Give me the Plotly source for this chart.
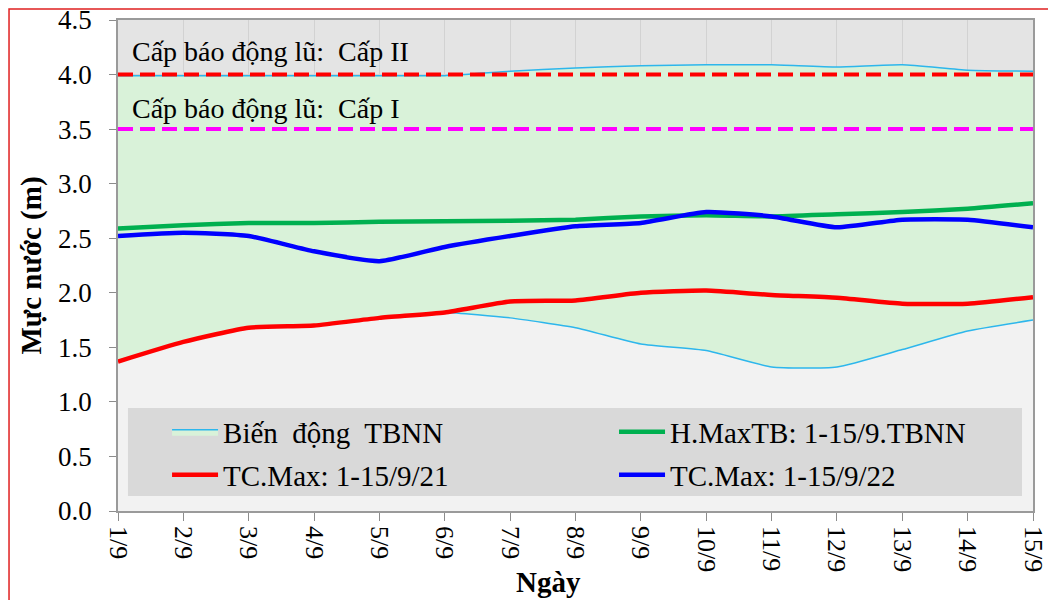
import plotly.graph_objects as go

# Ngày 1/9 -> 15/9
ngay = ["1/9", "2/9", "3/9", "4/9", "5/9", "6/9", "7/9", "8/9",
        "9/9", "10/9", "11/9", "12/9", "13/9", "14/9", "15/9"]

# Biến động TBNN (min / max)
bien_dong_min = [1.37, 1.55, 1.68, 1.70, 1.77, 1.82, 1.77, 1.68,
                 1.53, 1.47, 1.32, 1.32, 1.48, 1.65, 1.75]
bien_dong_max = [3.99, 3.99, 3.99, 3.99, 3.99, 3.99, 4.03, 4.06,
                 4.08, 4.09, 4.09, 4.07, 4.09, 4.04, 4.03]

h_max_tb = [2.59, 2.62, 2.64, 2.64, 2.65, 2.655, 2.66, 2.67,
            2.70, 2.71, 2.70, 2.72, 2.74, 2.77, 2.82]
tc_max_21 = [1.37, 1.55, 1.68, 1.70, 1.77, 1.82, 1.92, 1.93,
             2.00, 2.02, 1.98, 1.955, 1.90, 1.90, 1.96]
tc_max_22 = [2.52, 2.55, 2.52, 2.38, 2.29, 2.42, 2.52, 2.61,
             2.64, 2.74, 2.70, 2.60, 2.67, 2.67, 2.60]

bao_dong_1 = 3.5
bao_dong_2 = 4.0

FONT = "Liberation Serif"
XANH_NHAT = "#2db6ec"

fig = go.Figure()

fig.add_trace(go.Scatter(
    x=ngay, y=bien_dong_min, mode="lines", fill="tozeroy", fillcolor="#f2f2f2",
    line=dict(color=XANH_NHAT, width=1.5, shape="spline", smoothing=0.5),
    showlegend=False, hoverinfo="skip",
))
fig.add_trace(go.Scatter(
    x=ngay, y=bien_dong_max, mode="lines", fill="tonexty", fillcolor="#d9f2d9",
    line=dict(color=XANH_NHAT, width=1.5, shape="spline", smoothing=0.5),
    name="Biến  động  TBNN", legend="legend",
))
fig.add_trace(go.Scatter(
    x=[ngay[0], ngay[-1]], y=[bao_dong_2, bao_dong_2], mode="lines",
    line=dict(color="#ff0000", width=4, dash="15px,7px"), showlegend=False,
))
fig.add_trace(go.Scatter(
    x=[ngay[0], ngay[-1]], y=[bao_dong_1, bao_dong_1], mode="lines",
    line=dict(color="#ff00ff", width=4, dash="15px,7px"), showlegend=False,
))
fig.add_trace(go.Scatter(
    x=ngay, y=h_max_tb, mode="lines", name="H.MaxTB: 1-15/9.TBNN", legend="legend2",
    line=dict(color="#00b050", width=4.5, shape="spline", smoothing=0.5),
))
fig.add_trace(go.Scatter(
    x=ngay, y=tc_max_21, mode="lines", name="TC.Max: 1-15/9/21", legend="legend3",
    line=dict(color="#ff0000", width=4.5, shape="spline", smoothing=0.5),
))
fig.add_trace(go.Scatter(
    x=ngay, y=tc_max_22, mode="lines", name="TC.Max: 1-15/9/22", legend="legend4",
    line=dict(color="#0000ff", width=4.5, shape="spline", smoothing=0.5),
))

fig.add_annotation(x=0.013, xref="paper", y=4.21, yref="y", text="Cấp báo động lũ:  Cấp II",
                   showarrow=False, xanchor="left", yanchor="middle",
                   font=dict(family=FONT, size=28, color="black"))
fig.add_annotation(x=0.013, xref="paper", y=3.69, yref="y", text="Cấp báo động lũ:  Cấp I",
                   showarrow=False, xanchor="left", yanchor="middle",
                   font=dict(family=FONT, size=28, color="black"))
# tiêu đề trục x
fig.add_annotation(x=0.47, xref="paper", y=-0.145, yref="paper", text="<b>Ngày</b>",
                   showarrow=False, xanchor="center", yanchor="middle",
                   font=dict(family=FONT, size=29, color="black"))

# khung nền chú thích
fig.add_shape(type="rect", xref="paper", yref="paper", x0=0.0109, x1=0.988, y0=0.0305, y1=0.2098,
              fillcolor="#d9d9d9", line_width=0, layer="above")
# viền đỏ ngoài
fig.add_shape(type="rect", xref="paper", yref="paper", x0=-0.1191, x1=1.2, y0=-0.4, y1=1.0224,
              line=dict(color="#e02020", width=1.5), fillcolor="rgba(0,0,0,0)", layer="above")

legend_style = dict(orientation="h", bgcolor="rgba(0,0,0,0)", xanchor="left", yanchor="middle",
                    font=dict(family=FONT, size=29, color="black"), itemwidth=46)

# trang html có lề 8px quanh khung hình, lề dưới đây đã trừ đi
fig.update_layout(
    width=1056, height=600,
    margin=dict(l=110, r=31, t=12, b=97),
    paper_bgcolor="white", plot_bgcolor="#e4e4e4",
    font=dict(family=FONT, color="black"),
    legend=dict(x=0.0536, y=0.1609, **legend_style),
    legend2=dict(x=0.5421, y=0.1609, **legend_style),
    legend3=dict(x=0.0536, y=0.0733, **legend_style),
    legend4=dict(x=0.5421, y=0.0733, **legend_style),
    xaxis=dict(
        type="category", categoryorder="array", categoryarray=ngay, range=[0, 14],
        tickangle=90, ticks="outside", ticklen=8, tickcolor="#8c8c8c",
        showline=True, linecolor="#9a9a9a", linewidth=1.5, mirror=True,
        showgrid=True, gridcolor="#d2d2d2", gridwidth=1, automargin=False,
        tickfont=dict(family=FONT, size=26, color="black"), ticklabeloverflow="allow",
    ),
    yaxis=dict(
        range=[0, 4.5], dtick=0.5, tickformat=".1f",
        ticks="outside", ticklen=7, tickcolor="#8c8c8c", ticklabelstandoff=12,
        showline=True, linecolor="#9a9a9a", linewidth=1.5, mirror=True,
        showgrid=True, gridcolor="#d2d2d2", gridwidth=1, zeroline=False, automargin=False,
        tickfont=dict(family=FONT, size=27, color="black"), ticklabeloverflow="allow",
        title=dict(text="<b>Mực nước (m)</b>", font=dict(family=FONT, size=29, color="black"), standoff=8),
    ),
)

fig.write_html("out.html")
